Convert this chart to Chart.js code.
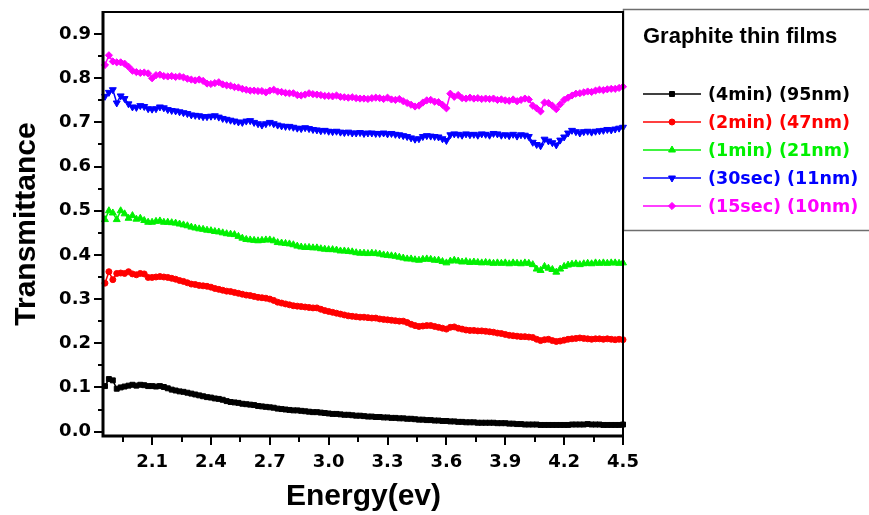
<!DOCTYPE html>
<html>
<head>
<meta charset="utf-8">
<script src="https://cdn.jsdelivr.net/npm/chart.js"></script>
<style>
  html, body { margin: 0; padding: 0; background: #ffffff; overflow: hidden; }
  canvas { display: block; }
</style>
</head>
<body>
<canvas id="chart" width="869" height="515"></canvas>
<script>
// Photon energy (eV)
const energy = [
  1.86,1.88,1.90,1.92,1.94,1.96,1.98,2.00,2.02,2.04,
  2.06,2.08,2.10,2.12,2.14,2.16,2.18,2.20,2.22,2.24,
  2.26,2.28,2.30,2.32,2.34,2.36,2.38,2.40,2.42,2.44,
  2.46,2.48,2.50,2.52,2.54,2.56,2.58,2.60,2.62,2.64,
  2.66,2.68,2.70,2.72,2.74,2.76,2.78,2.80,2.82,2.84,
  2.86,2.88,2.90,2.92,2.94,2.96,2.98,3.00,3.02,3.04,
  3.06,3.08,3.10,3.12,3.14,3.16,3.18,3.20,3.22,3.24,
  3.26,3.28,3.30,3.32,3.34,3.36,3.38,3.40,3.42,3.44,
  3.46,3.48,3.50,3.52,3.54,3.56,3.58,3.60,3.62,3.64,
  3.66,3.68,3.70,3.72,3.74,3.76,3.78,3.80,3.82,3.84,
  3.86,3.88,3.90,3.92,3.94,3.96,3.98,4.00,4.02,4.04,
  4.06,4.08,4.10,4.12,4.14,4.16,4.18,4.20,4.22,4.24,
  4.26,4.28,4.30,4.32,4.34,4.36,4.38,4.40,4.42,4.44,
  4.46,4.48,4.50
];

// Transmittance, 4 min deposition (95 nm)
const film4min = [
  0.103,0.119,0.116,0.097,0.100,0.102,0.104,0.106,0.104,0.106,
  0.105,0.103,0.103,0.102,0.103,0.101,0.098,0.095,0.093,0.091,
  0.090,0.088,0.086,0.084,0.082,0.080,0.078,0.077,0.075,0.074,
  0.072,0.069,0.067,0.066,0.065,0.063,0.062,0.061,0.060,0.058,
  0.057,0.056,0.055,0.054,0.052,0.051,0.050,0.049,0.048,0.048,
  0.047,0.046,0.045,0.044,0.044,0.043,0.042,0.041,0.040,0.040,
  0.039,0.038,0.038,0.037,0.036,0.036,0.035,0.034,0.034,0.033,
  0.033,0.032,0.032,0.031,0.031,0.030,0.030,0.029,0.029,0.028,
  0.027,0.027,0.026,0.026,0.025,0.025,0.024,0.024,0.023,0.023,
  0.022,0.022,0.021,0.021,0.021,0.020,0.020,0.020,0.020,0.020,
  0.019,0.019,0.019,0.018,0.018,0.017,0.017,0.016,0.016,0.016,
  0.016,0.015,0.015,0.015,0.015,0.015,0.015,0.015,0.015,0.016,
  0.016,0.016,0.016,0.017,0.016,0.016,0.016,0.015,0.015,0.015,
  0.015,0.015,0.016
];

// Transmittance, 2 min deposition (47 nm)
const film2min = [
  0.336,0.362,0.344,0.358,0.359,0.358,0.362,0.357,0.355,0.358,
  0.357,0.349,0.349,0.350,0.351,0.350,0.349,0.347,0.345,0.342,
  0.340,0.337,0.334,0.333,0.331,0.330,0.329,0.327,0.324,0.322,
  0.320,0.318,0.317,0.315,0.313,0.311,0.309,0.308,0.306,0.304,
  0.303,0.302,0.300,0.297,0.293,0.291,0.289,0.287,0.285,0.284,
  0.283,0.282,0.281,0.280,0.280,0.277,0.274,0.272,0.270,0.268,
  0.266,0.264,0.262,0.261,0.260,0.259,0.259,0.258,0.257,0.257,
  0.255,0.254,0.253,0.252,0.251,0.250,0.250,0.247,0.243,0.240,
  0.238,0.239,0.240,0.240,0.238,0.236,0.234,0.232,0.236,0.237,
  0.234,0.232,0.230,0.229,0.229,0.228,0.228,0.227,0.226,0.225,
  0.223,0.222,0.220,0.218,0.217,0.216,0.215,0.215,0.214,0.213,
  0.209,0.206,0.208,0.209,0.206,0.204,0.205,0.207,0.209,0.210,
  0.211,0.212,0.211,0.210,0.209,0.210,0.210,0.209,0.210,0.209,
  0.208,0.209,0.208
];

// Transmittance, 1 min deposition (21 nm)
const film1min = [
  0.480,0.500,0.495,0.480,0.500,0.493,0.483,0.489,0.481,0.483,
  0.478,0.474,0.474,0.476,0.477,0.474,0.474,0.473,0.472,0.470,
  0.468,0.466,0.463,0.461,0.459,0.458,0.456,0.455,0.453,0.452,
  0.450,0.448,0.447,0.446,0.442,0.438,0.435,0.434,0.433,0.432,
  0.433,0.434,0.434,0.432,0.428,0.427,0.426,0.425,0.423,0.420,
  0.418,0.417,0.417,0.416,0.416,0.414,0.413,0.412,0.412,0.411,
  0.409,0.409,0.408,0.407,0.405,0.404,0.404,0.403,0.404,0.403,
  0.402,0.400,0.399,0.398,0.397,0.395,0.393,0.391,0.391,0.389,
  0.388,0.390,0.391,0.390,0.388,0.388,0.385,0.382,0.386,0.388,
  0.386,0.384,0.385,0.383,0.384,0.383,0.382,0.383,0.382,0.381,
  0.382,0.381,0.382,0.380,0.382,0.381,0.380,0.382,0.381,0.378,
  0.368,0.365,0.374,0.370,0.367,0.361,0.368,0.374,0.377,0.379,
  0.380,0.378,0.380,0.381,0.380,0.382,0.381,0.382,0.381,0.382,
  0.382,0.381,0.382
];

// Transmittance, 30 s deposition (11 nm)
const film30sec = [
  0.759,0.768,0.774,0.744,0.760,0.754,0.742,0.735,0.734,0.738,
  0.736,0.731,0.730,0.731,0.735,0.733,0.729,0.727,0.726,0.724,
  0.722,0.720,0.717,0.716,0.715,0.713,0.713,0.714,0.715,0.712,
  0.709,0.707,0.705,0.703,0.701,0.700,0.703,0.704,0.700,0.697,
  0.694,0.697,0.700,0.697,0.694,0.692,0.691,0.691,0.689,0.687,
  0.686,0.688,0.686,0.684,0.683,0.681,0.682,0.680,0.679,0.680,
  0.678,0.677,0.678,0.676,0.676,0.677,0.675,0.676,0.676,0.675,
  0.675,0.676,0.674,0.675,0.673,0.672,0.670,0.668,0.665,0.662,
  0.663,0.668,0.670,0.669,0.668,0.667,0.663,0.659,0.672,0.674,
  0.673,0.671,0.674,0.672,0.673,0.671,0.674,0.673,0.671,0.675,
  0.674,0.671,0.672,0.670,0.673,0.669,0.672,0.671,0.668,0.655,
  0.650,0.647,0.662,0.658,0.654,0.649,0.660,0.667,0.676,0.682,
  0.679,0.676,0.679,0.680,0.678,0.680,0.681,0.682,0.684,0.683,
  0.685,0.687,0.689
];

// Transmittance, 15 s deposition (10 nm)
const film15sec = [
  0.830,0.852,0.838,0.836,0.836,0.833,0.826,0.817,0.814,0.812,
  0.813,0.811,0.800,0.807,0.808,0.805,0.804,0.805,0.803,0.804,
  0.802,0.799,0.797,0.795,0.797,0.794,0.788,0.787,0.789,0.791,
  0.786,0.784,0.783,0.780,0.779,0.776,0.774,0.772,0.772,0.771,
  0.771,0.768,0.772,0.774,0.770,0.769,0.767,0.766,0.766,0.762,
  0.761,0.763,0.766,0.764,0.763,0.762,0.760,0.760,0.759,0.761,
  0.758,0.757,0.756,0.757,0.755,0.754,0.754,0.753,0.755,0.756,
  0.755,0.753,0.756,0.752,0.751,0.753,0.748,0.744,0.740,0.736,
  0.738,0.745,0.750,0.751,0.747,0.746,0.740,0.732,0.765,0.758,
  0.762,0.755,0.754,0.756,0.754,0.755,0.753,0.754,0.753,0.754,
  0.751,0.752,0.750,0.749,0.752,0.748,0.751,0.754,0.752,0.738,
  0.732,0.725,0.745,0.744,0.738,0.730,0.741,0.751,0.756,0.761,
  0.765,0.766,0.768,0.770,0.769,0.772,0.774,0.773,0.775,0.776,
  0.776,0.778,0.781
];

const seriesLabels = ['(4min) (95nm)', '(2min) (47nm)', '(1min) (21nm)', '(30sec) (11nm)', '(15sec) (10nm)'];
const legendTitle = 'Graphite thin films';

const xMajorTicks = [2.1, 2.4, 2.7, 3.0, 3.3, 3.6, 3.9, 4.2, 4.5];
const xMinorTicks = [1.95, 2.25, 2.55, 2.85, 3.15, 3.45, 3.75, 4.05, 4.35];
const yMajorTicks = [0.0, 0.1, 0.2, 0.3, 0.4, 0.5, 0.6, 0.7, 0.8, 0.9];
const yMinorTicks = [0.05, 0.15, 0.25, 0.35, 0.45, 0.55, 0.65, 0.75, 0.85];

const toPoints = values => energy.map((e, i) => ({ x: e, y: values[i] }));

const styles = [
  { color: '#000000', pointStyle: 'rect',     radius: 3.5, rotation: 0 },
  { color: '#ff0000', pointStyle: 'circle',   radius: 3,   rotation: 0 },
  { color: '#00f000', pointStyle: 'triangle', radius: 4,   rotation: 0 },
  { color: '#0000ff', pointStyle: 'triangle', radius: 4,   rotation: 180 },
  { color: '#ff00ff', pointStyle: 'rectRot',  radius: 3.6, rotation: 0 }
];
const seriesData = [film4min, film2min, film1min, film30sec, film15sec];

const datasets = seriesData.map((vals, i) => ({
  label: seriesLabels[i],
  data: toPoints(vals),
  borderColor: styles[i].color,
  backgroundColor: styles[i].color,
  pointBackgroundColor: styles[i].color,
  pointBorderColor: styles[i].color,
  pointBorderWidth: 1,
  pointStyle: styles[i].pointStyle,
  pointRotation: styles[i].rotation,
  pointRadius: styles[i].radius,
  borderWidth: 1.5,
  tension: 0,
  clip: 4
}));

const tickFont = { family: '"DejaVu Sans", sans-serif', size: 18, weight: 'bold' };
const titleFont = { family: '"Liberation Sans", Arial, sans-serif', size: 30, weight: 'bold' };

function fallbackPoint(ctx, style, x, y) {
  const r = style.radius;
  ctx.beginPath();
  if (style.pointStyle === 'circle') {
    ctx.arc(x, y, r, 0, Math.PI * 2);
  } else if (style.pointStyle === 'rect') {
    const s = r * Math.SQRT1_2;
    ctx.rect(x - s, y - s, 2 * s, 2 * s);
  } else if (style.pointStyle === 'rectRot') {
    ctx.moveTo(x - r, y); ctx.lineTo(x, y - r); ctx.lineTo(x + r, y); ctx.lineTo(x, y + r);
  } else {
    const dir = style.rotation ? -1 : 1;
    ctx.moveTo(x, y - dir * r);
    ctx.lineTo(x + r * 0.866, y + dir * r * 0.5);
    ctx.lineTo(x - r * 0.866, y + dir * r * 0.5);
  }
  ctx.closePath();
  ctx.fill();
}

// Axes lines, tick marks, plot frame and the boxed legend
const framePlugin = {
  id: 'framePlugin',
  afterDraw(chart) {
    const { ctx, chartArea: a, scales } = chart;
    const xs = scales.x, ys = scales.y;
    ctx.save();

    // legend box
    ctx.strokeStyle = '#6e6e6e';
    ctx.lineWidth = 1.5;
    ctx.strokeRect(623.5, 9.5, 260, 221);

    ctx.strokeStyle = '#000000';
    ctx.lineCap = 'butt';
    // top and right frame
    ctx.lineWidth = 2;
    ctx.beginPath();
    ctx.moveTo(a.left, a.top);
    ctx.lineTo(a.right, a.top);
    ctx.lineTo(a.right, a.bottom);
    ctx.stroke();

    // left and bottom axes
    ctx.lineWidth = 3;
    ctx.beginPath();
    ctx.moveTo(a.left - 1, a.top - 1);
    ctx.lineTo(a.left - 1, a.bottom + 1.5);
    ctx.moveTo(a.left - 2.5, a.bottom);
    ctx.lineTo(a.right + 1, a.bottom);
    ctx.stroke();

    // tick marks
    ctx.lineWidth = 2;
    ctx.beginPath();
    yMajorTicks.forEach(v => {
      const p = Math.round(ys.getPixelForValue(v));
      ctx.moveTo(a.left - 10, p); ctx.lineTo(a.left - 1, p);
    });
    yMinorTicks.forEach(v => {
      const p = Math.round(ys.getPixelForValue(v));
      ctx.moveTo(a.left - 6, p); ctx.lineTo(a.left - 1, p);
    });
    xMajorTicks.forEach(v => {
      const p = Math.round(xs.getPixelForValue(v));
      ctx.moveTo(p, a.bottom); ctx.lineTo(p, a.bottom + 9);
    });
    xMinorTicks.forEach(v => {
      const p = Math.round(xs.getPixelForValue(v));
      ctx.moveTo(p, a.bottom); ctx.lineTo(p, a.bottom + 6);
    });
    ctx.stroke();

    // legend title
    ctx.fillStyle = '#000000';
    ctx.textAlign = 'left';
    ctx.textBaseline = 'middle';
    ctx.font = 'bold 22px "Liberation Sans", Arial, sans-serif';
    ctx.fillText(legendTitle, 643, 37);

    // legend entries
    const rowY = [94, 122, 150, 178, 206];
    ctx.font = 'bold 17.5px "DejaVu Sans", sans-serif';
    styles.forEach((st, i) => {
      const yy = rowY[i];
      ctx.strokeStyle = st.color;
      ctx.fillStyle = st.color;
      ctx.lineWidth = 1.5;
      ctx.beginPath();
      ctx.moveTo(643, yy); ctx.lineTo(701, yy);
      ctx.stroke();
      if (Chart.helpers && Chart.helpers.drawPoint) {
        ctx.lineWidth = 1;
        Chart.helpers.drawPoint(ctx, { pointStyle: st.pointStyle, radius: st.radius, rotation: st.rotation, borderWidth: 1 }, 672, yy);
      } else {
        fallbackPoint(ctx, st, 672, yy);
      }
      ctx.fillStyle = st.color;
      ctx.fillText(seriesLabels[i], 708, yy + 1);
    });

    ctx.restore();
  }
};

new Chart(document.getElementById('chart'), {
  type: 'line',
  data: { datasets },
  options: {
    responsive: false,
    animation: false,
    devicePixelRatio: 1,
    layout: { padding: { top: 12, right: 246, left: 0, bottom: 0 } },
    plugins: { legend: { display: false }, tooltip: { enabled: false } },
    scales: {
      x: {
        type: 'linear',
        min: 1.855,
        max: 4.5,
        afterBuildTicks: s => { s.ticks = xMajorTicks.map(v => ({ value: v })); },
        afterFit: s => { s.height = 79; s.paddingLeft = 0; s.paddingRight = 0; },
        grid: { display: false, drawTicks: false },
        border: { display: false },
        ticks: {
          font: tickFont, color: '#000000', padding: 16,
          maxRotation: 0, autoSkip: false,
          callback: v => Number(v).toFixed(1)
        },
        title: { display: true, text: 'Energy(ev)', font: titleFont, color: '#000000', padding: { top: 0, bottom: 0 } }
      },
      y: {
        type: 'linear',
        min: -0.01,
        max: 0.95,
        afterBuildTicks: s => { s.ticks = yMajorTicks.map(v => ({ value: v })); },
        afterFit: s => { s.width = 104; s.paddingTop = 0; s.paddingBottom = 0; },
        grid: { display: false, drawTicks: false },
        border: { display: false },
        ticks: {
          font: tickFont, color: '#000000', padding: 13,
          autoSkip: false,
          callback: v => Number(v).toFixed(1)
        },
        title: { display: true, text: 'Transmittance', font: titleFont, color: '#000000', padding: { top: 9, bottom: 0 } }
      }
    }
  },
  plugins: [framePlugin]
});
</script>
</body>
</html>
